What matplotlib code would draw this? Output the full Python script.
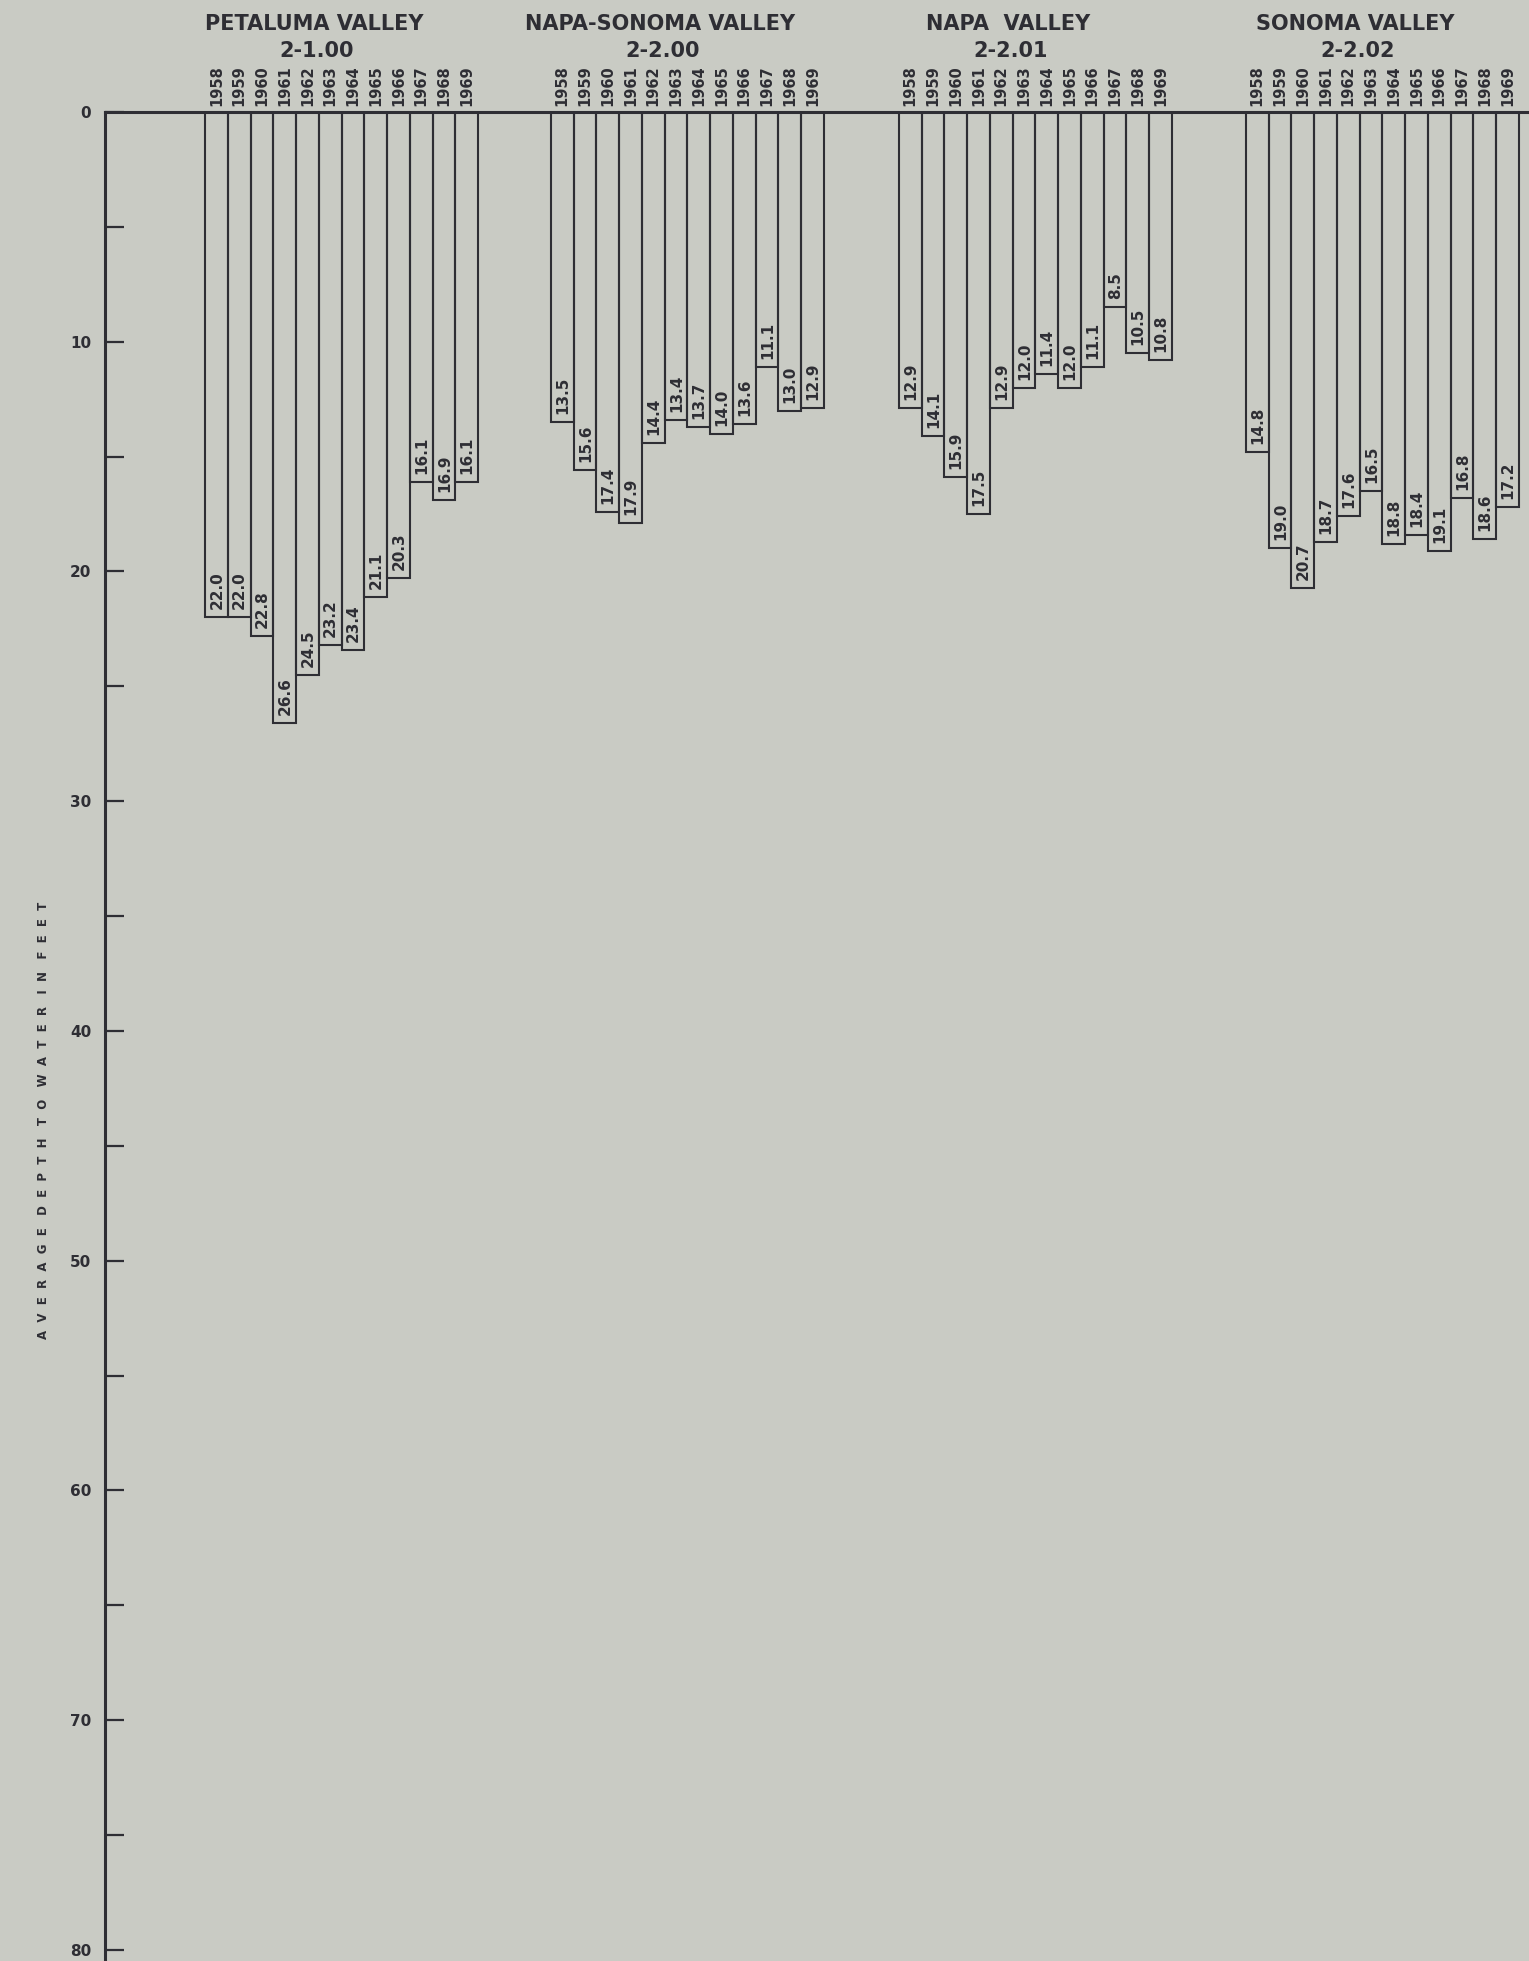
import matplotlib.pyplot as plt
from matplotlib.ticker import MultipleLocator

years = ['1958', '1959', '1960', '1961', '1962', '1963',
         '1964', '1965', '1966', '1967', '1968', '1969']

basin_names = ['PETALUMA VALLEY', 'NAPA-SONOMA VALLEY', 'NAPA  VALLEY', 'SONOMA VALLEY']
basin_codes = ['2-1.00', '2-2.00', '2-2.01', '2-2.02']

petaluma = [22.0, 22.0, 22.8, 26.6, 24.5, 23.2, 23.4, 21.1, 20.3, 16.1, 16.9, 16.1]
napa_sonoma = [13.5, 15.6, 17.4, 17.9, 14.4, 13.4, 13.7, 14.0, 13.6, 11.1, 13.0, 12.9]
napa = [12.9, 14.1, 15.9, 17.5, 12.9, 12.0, 11.4, 12.0, 11.1, 8.5, 10.5, 10.8]
sonoma = [14.8, 19.0, 20.7, 18.7, 17.6, 16.5, 18.8, 18.4, 19.1, 16.8, 18.6, 17.2]

depths = [petaluma, napa_sonoma, napa, sonoma]

# where each basin group starts along the x axis (in bar widths)
group_starts = [4.4, 19.6, 34.9, 50.15]

bg = '#c9cbc4'
ink = '#2e2e34'
font = 'DejaVu Sans'

fig = plt.figure(figsize=(15.29, 19.61), dpi=100, facecolor=bg)
ax = fig.add_axes([0.0687, 0.0, 0.9313, 0.9429])
ax.set_facecolor(bg)

for start, name, code, vals in zip(group_starts, basin_names, basin_codes, depths):
    xs = [start + i + 0.5 for i in range(len(vals))]
    ax.bar(xs, vals, width=1.0, fill=False, edgecolor=ink, linewidth=1.5)
    for x, yr, v in zip(xs, years, vals):
        ax.text(x, -0.25, yr, rotation=90, ha='center', va='bottom',
                fontsize=10.5, fontweight='bold', color=ink, family=font, clip_on=False)
        ax.text(x + 0.02, v - 0.35, f'{v:.1f}', rotation=90, ha='center', va='bottom',
                fontsize=11, fontweight='bold', color=ink, family=font)
    ax.text(start + 4.8, -3.83, name, ha='center', va='center', fontsize=15,
            fontweight='bold', color=ink, family=font, clip_on=False)
    ax.text(start + 4.9, -2.65, code, ha='center', va='center', fontsize=15,
            fontweight='bold', color=ink, family=font, clip_on=False)

ax.set_xlim(0, 62.6)
ax.set_ylim(80.48, 0)

for side in ['right', 'bottom']:
    ax.spines[side].set_visible(False)
for side in ['left', 'top']:
    ax.spines[side].set_color(ink)
    ax.spines[side].set_linewidth(2.2)

ax.set_xticks([])
ax.yaxis.set_major_locator(MultipleLocator(10))
ax.yaxis.set_minor_locator(MultipleLocator(5))
ax.tick_params(axis='y', which='both', direction='in', length=14, width=1.6,
               color=ink, labelcolor=ink, labelsize=11, pad=10)
for lbl in ax.get_yticklabels():
    lbl.set_fontweight('bold')
    lbl.set_family(font)

ylabel = '   '.join('  '.join(w) for w in 'AVERAGE DEPTH TO WATER IN FEET'.split())
fig.text(44 / 1529, 1 - 1120 / 1961, ylabel, rotation=90, ha='center', va='center',
         fontsize=8.5, fontweight='bold', color=ink, family=font)

fig.savefig('out.png', dpi=100, facecolor=bg)
